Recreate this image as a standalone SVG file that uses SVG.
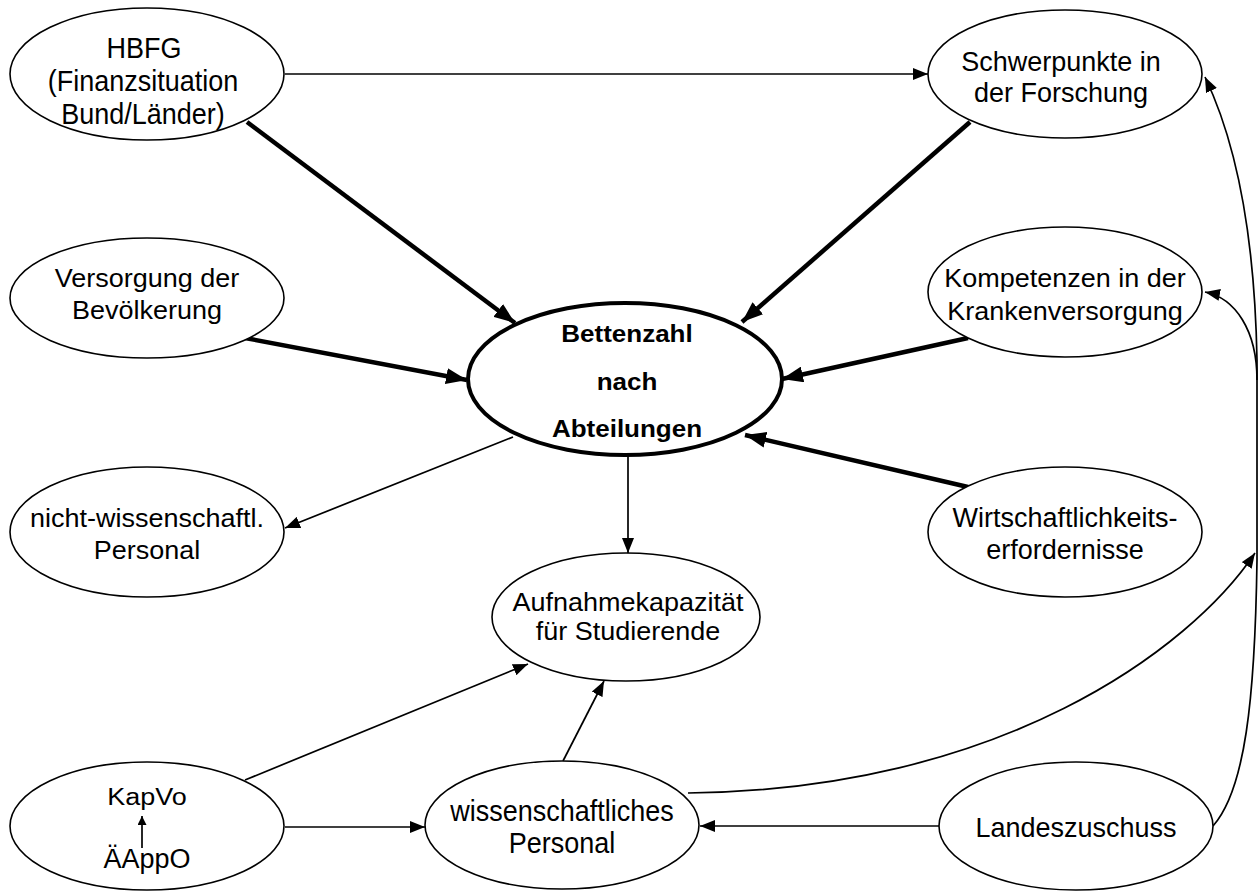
<svg xmlns="http://www.w3.org/2000/svg" width="1258" height="891" viewBox="0 0 1258 891">
<style>
.n{fill:#fff;stroke:#000;stroke-width:1.6}
.c{fill:#fff;stroke:#000;stroke-width:4}
.t{font-family:"Liberation Sans",Arial,sans-serif;font-size:27px;text-anchor:middle;fill:#000}
.b{font-family:"Liberation Sans",Arial,sans-serif;font-size:26px;font-weight:bold;text-anchor:middle;fill:#000}
.thin{fill:none;stroke:#000;stroke-width:1.7;marker-end:url(#a)}
.thick{fill:none;stroke:#000;stroke-width:4.5;marker-end:url(#A)}
</style>
<defs>
<marker id="a" markerUnits="userSpaceOnUse" markerWidth="16" markerHeight="12" refX="15" refY="6" orient="auto"><path d="M0,0 L15,6 L0,12 Z" fill="#000"/></marker>
<marker id="A" markerUnits="userSpaceOnUse" markerWidth="22" markerHeight="16" refX="21" refY="8" orient="auto"><path d="M0,0 L21,8 L0,16 Z" fill="#000"/></marker>
<marker id="s" markerUnits="userSpaceOnUse" markerWidth="10" markerHeight="10" refX="9" refY="4.5" orient="auto"><path d="M0,0 L9,4.5 L0,9 Z" fill="#000"/></marker>
</defs>
<rect width="1258" height="891" fill="#fff"/>
<g id="connectors">
<path class="thin" d="M285,74 L928,74"/>
<path class="thick" d="M247,122 L515,323"/>
<path class="thick" d="M970,122 L742,322"/>
<path class="thick" d="M245,338 L467,380"/>
<path class="thick" d="M968,338 L782,379"/>
<path class="thick" d="M968,487 L745,435"/>
<path class="thin" d="M513,437 L285,528"/>
<path class="thin" d="M628,455 L628,553"/>
<path class="thin" d="M245,780 L528,664"/>
<path class="thin" d="M563,761 L604,681"/>
<path class="thin" d="M285,827 L425,827"/>
<path class="thin" d="M939,826 L700,826"/>
<path class="thin" d="M688,793 C1000,790 1190,650 1255,553"/>
<path class="thin" d="M1213,826 C1245,790 1255,700 1257,560 L1257,360 C1255,250 1240,150 1205,77"/>
<path class="thin" d="M1257,380 C1257,330 1235,298 1205,292"/>
</g>
<g id="n-hbfg">
<ellipse class="n" cx="147" cy="74" rx="137" ry="66"/>
<text class="t" transform="translate(144,58) scale(1,1.1)">HBFG</text>
<text class="t" transform="translate(143,91) scale(1,1.1)">(Finanzsituation</text>
<text class="t" transform="translate(143,124) scale(1,1.1)">Bund/Länder)</text>
</g>
<g id="n-schwerpunkte">
<ellipse class="n" cx="1065" cy="74" rx="137" ry="64"/>
<text class="t" transform="translate(1061,71) scale(1,1.04)">Schwerpunkte in</text>
<text class="t" transform="translate(1061,102) scale(1,1.04)">der Forschung</text>
</g>
<g id="n-versorgung">
<ellipse class="n" cx="147" cy="298" rx="137" ry="60"/>
<text class="t" transform="translate(147,287) scale(1,0.95)">Versorgung der</text>
<text class="t" transform="translate(147,319) scale(1,0.95)">Bevölkerung</text>
</g>
<g id="n-kompetenzen">
<ellipse class="n" cx="1065" cy="292" rx="137" ry="65"/>
<text class="t" transform="translate(1065,287) scale(1,0.95)">Kompetenzen in der</text>
<text class="t" transform="translate(1065,320) scale(1,0.95)">Krankenversorgung</text>
</g>
<g id="n-bettenzahl">
<ellipse class="c" cx="625" cy="379" rx="157" ry="76"/>
<text class="b" transform="translate(627,342) scale(1,0.92)">Bettenzahl</text>
<text class="b" transform="translate(627,390) scale(1,0.92)">nach</text>
<text class="b" transform="translate(627,437) scale(1,0.92)">Abteilungen</text>
</g>
<g id="n-nichtwiss">
<ellipse class="n" cx="147" cy="532" rx="137" ry="65"/>
<text class="t" transform="translate(147,527) scale(1,0.95)">nicht-wissenschaftl.</text>
<text class="t" transform="translate(147,559) scale(1,0.95)">Personal</text>
</g>
<g id="n-wirtschaft">
<ellipse class="n" cx="1065" cy="532" rx="137" ry="65"/>
<text class="t" transform="translate(1065,527)">Wirtschaftlichkeits-</text>
<text class="t" transform="translate(1065,559)">erfordernisse</text>
</g>
<g id="n-aufnahme">
<ellipse class="n" cx="626" cy="617" rx="134" ry="64"/>
<text class="t" transform="translate(628,611) scale(1,0.95)">Aufnahmekapazität</text>
<text class="t" transform="translate(628,640) scale(1,0.95)">für Studierende</text>
</g>
<g id="n-kapvo">
<ellipse class="n" cx="147" cy="826" rx="137" ry="64"/>
<text class="t" transform="translate(147,805) scale(1,0.92)">KapVo</text>
<path d="M142,848 L142,816" fill="none" stroke="#000" stroke-width="1.7" marker-end="url(#s)"/>
<text class="t" transform="translate(147,868)">ÄAppO</text>
</g>
<g id="n-wiss">
<ellipse class="n" cx="562" cy="825" rx="137" ry="64"/>
<text class="t" transform="translate(562,821) scale(1,1.1)">wissenschaftliches</text>
<text class="t" transform="translate(562,853) scale(1,1.1)">Personal</text>
</g>
<g id="n-landes">
<ellipse class="n" cx="1076" cy="826" rx="137" ry="64"/>
<text class="t" transform="translate(1076,837) scale(1,1.04)">Landeszuschuss</text>
</g>
</svg>
